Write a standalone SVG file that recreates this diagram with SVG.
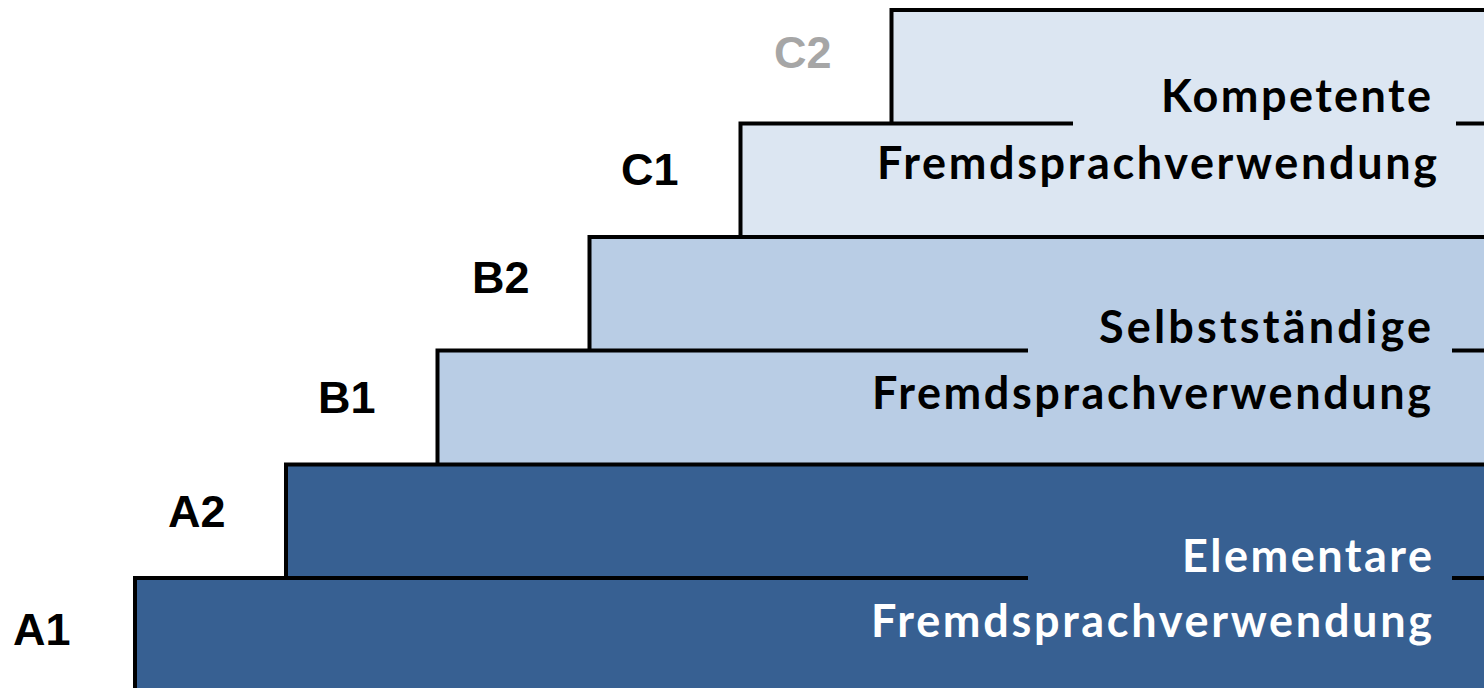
<svg xmlns="http://www.w3.org/2000/svg" width="1484" height="688" viewBox="0 0 1484 688">
<style>
.edge{fill:none;stroke:#000;stroke-width:4;stroke-linecap:square}
.lvl{font-family:"Liberation Sans",Arial,sans-serif;font-weight:bold;font-size:45px;fill:#000}
.cap{font-family:Lato,"Open Sans",sans-serif;font-weight:bold;font-size:45px}
.c{fill:#dce6f2}.b{fill:#b9cde5}.a{fill:#376092}
</style>
<rect width="1484" height="688" fill="#fff"/>
<g id="C2"><rect class="c" x="891.5" y="10" width="600" height="114"/><path class="edge" d="M891.5,123.5 V10 H1490"/><text class="lvl" x="774" y="68" fill="#a6a6a6" style="fill:#a6a6a6">C2</text></g>
<g id="C1"><rect class="c" x="740.5" y="123.5" width="750" height="114"/><path class="edge" d="M740.5,237 V123.5 H1071 M1458,123.5 H1490"/><text class="lvl" x="621" y="185">C1</text></g>
<g id="B2"><rect class="b" x="589.5" y="237" width="900" height="114"/><path class="edge" d="M589.5,350.5 V237 H1490"/><text class="lvl" x="472" y="293">B2</text></g>
<g id="B1"><rect class="b" x="437.5" y="350.5" width="1050" height="114"/><path class="edge" d="M437.5,464.5 V350.5 H1026 M1454,350.5 H1490"/><text class="lvl" x="318" y="413">B1</text></g>
<g id="A2"><rect class="a" x="286" y="464.5" width="1200" height="114"/><path class="edge" d="M286,578 V464.5 H1490"/><text class="lvl" x="168" y="527">A2</text></g>
<g id="A1"><rect class="a" x="135" y="578" width="1360" height="120"/><path class="edge" d="M135,700 V578 H1026 M1454,578 H1490"/><text class="lvl" x="13" y="645">A1</text></g>
<g id="C-label" class="cap" fill="#000"><text x="1161" y="112" textLength="270" lengthAdjust="spacing">Kompetente</text><text x="877" y="179" textLength="560" lengthAdjust="spacing">Fremdsprachverwendung</text></g>
<g id="B-label" class="cap" fill="#000"><text x="1099" y="343" textLength="332" lengthAdjust="spacing">Selbstständige</text><text x="872" y="409" textLength="559" lengthAdjust="spacing">Fremdsprachverwendung</text></g>
<g id="A-label" class="cap" fill="#fff"><text x="1182" y="572" textLength="250" lengthAdjust="spacing">Elementare</text><text x="871" y="637" textLength="561" lengthAdjust="spacing">Fremdsprachverwendung</text></g>
<g id="connectors"/>
</svg>
